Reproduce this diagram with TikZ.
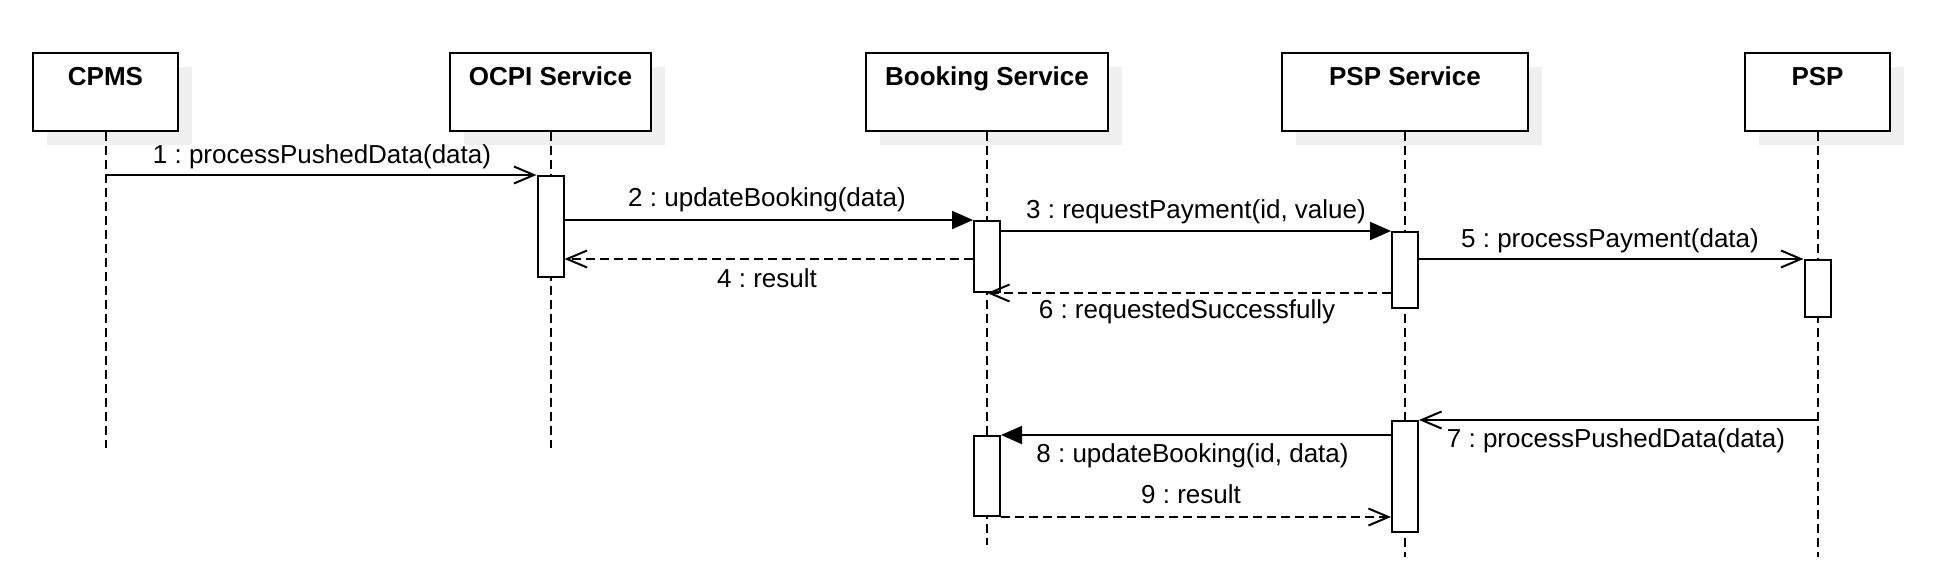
\documentclass[tikz,border=0pt]{standalone}
\usepackage{fontspec}
\setmainfont{Liberation Sans}
\usetikzlibrary{arrows.meta,shadows}
\definecolor{shadowgray}{RGB}{240,240,240}
\frenchspacing
\begin{document}
\begin{tikzpicture}[x=0.5pt,y=-0.5pt,
  font=\fontsize{13pt}{15pt}\selectfont,
  obj/.style={draw, line width=1pt, fill=white, minimum height=39pt, inner sep=0pt, anchor=north,
    drop shadow={shadow xshift=7pt, shadow yshift=-7pt, fill=shadowgray, opacity=1}},
  title/.style={font=\fontsize{13pt}{15pt}\selectfont\bfseries, inner sep=0pt, anchor=base},
  life/.style={line width=1pt, dash pattern=on 4.5pt off 2.5pt},
  act/.style={draw, line width=1pt, fill=white, minimum width=13pt, inner sep=0pt, anchor=north},
  msg/.style={line width=1pt},
  call/.style={msg, -{Triangle[length=10.5pt,width=9pt]}},
  async/.style={msg, -{Straight Barb[length=10pt,width=8.5pt,line width=1pt]}},
  ret/.style={msg, dash pattern=on 4.5pt off 2.5pt, -{Straight Barb[length=10pt,width=8.5pt,line width=1pt]}},
  lbl/.style={inner sep=0pt}
]
\useasboundingbox (0,0) rectangle (1934,584);

% participants
\node[obj, minimum width=72.5pt] (cpms) at (105.5,52) {};
\node[obj, minimum width=100.5pt] (ocpi) at (550.5,52) {};
\node[obj, minimum width=121pt] (book) at (987,52) {};
\node[obj, minimum width=123.25pt] (pspsvc) at (1405,52) {};
\node[obj, minimum width=72.5pt] (psp) at (1817.5,52) {};

\node[title] (cpmsT) at (105.5,85) {CPMS};
\node[title] (ocpiT) at (550.5,85) {OCPI Service};
\node[title] (bookT) at (987,85) {Booking Service};
\node[title] (pspsvcT) at (1405,85) {PSP Service};
\node[title] (pspT) at (1817.5,85) {PSP};

% lifeline ends
\coordinate (cpmsE) at (105.5,448);
\coordinate (ocpiE) at (550.5,448);
\coordinate (bookE) at (987,545);
\coordinate (pspsvcE) at (1405,557);
\coordinate (pspE) at (1817.5,557);

\draw[life] (cpms.south) -- (cpmsE);
\draw[life] (ocpi.south) -- (ocpiE);
\draw[life] (book.south) -- (bookE);
\draw[life] (pspsvc.south) -- (pspsvcE);
\draw[life] (psp.south) -- (pspE);

% activations
\node[act, minimum height=50.5pt] (a1) at (550.5,175) {};
\node[act, minimum height=35.5pt] (a2) at (987,220) {};
\node[act, minimum height=38pt] (a3) at (1405,231) {};
\node[act, minimum height=28.5pt] (a4) at (1817.5,259) {};
\node[act, minimum height=55.5pt] (a5) at (1405,420) {};
\node[act, minimum height=40pt] (a6) at (987,435) {};

% messages
\draw[async] (cpms.south |- a1.north) -- (a1.north west);
\draw[call] (a1.east |- a2.north) -- (a2.north west);
\draw[call] (a2.east |- a3.north) -- (a3.north west);
\draw[ret] (a2.west |- a4.north) -- (a1.east |- a4.north);
\draw[async] (a3.east |- a4.north) -- (a4.north west);
\draw[ret] (a3.west |- a2.south) -- (a2.south);
\draw[async] (psp.south |- a5.north) -- (a5.north east);
\draw[call] (a5.west |- a6.north) -- (a6.north east);
\draw[ret] (a6.south east) -- (a5.west |- a6.south);

% labels
\node[lbl] (l1) at (322,157) {1 : processPushedData(data)};
\node[lbl] (l2) at (767,200) {2 : updateBooking(data)};
\node[lbl] (l3) at (1196,212) {3 : requestPayment(id, value)};
\node[lbl] (l4) at (767,278) {4 : result};
\node[lbl] (l5) at (1610,241) {5 : processPayment(data)};
\node[lbl] (l6) at (1187,312) {6 : requestedSuccessfully};
\node[lbl] (l7) at (1616,441) {7 : processPushedData(data)};
\node[lbl] (l8) at (1192.5,456) {8 : updateBooking(id, data)};
\node[lbl] (l9) at (1191,494) {9 : result};
\end{tikzpicture}
\end{document}
